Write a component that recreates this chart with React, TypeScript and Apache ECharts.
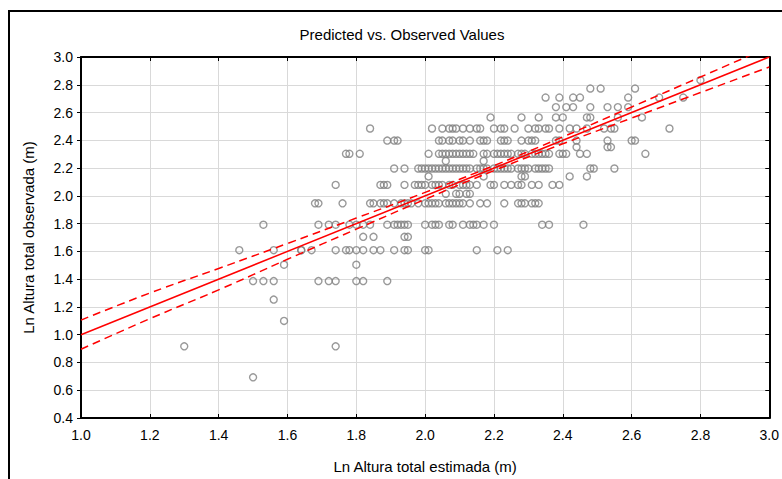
import React, { useEffect, useRef } from "react";
import * as echarts from "echarts";

// Observed heights come in discrete classes (ln of whole / half metres).
const observedLevels = [
  2.833, 2.773, 2.708, 2.639, 2.565, 2.485, 2.398, 2.351, 2.303, 2.251, 2.197, 2.14,
  2.079, 2.015, 1.946, 1.792, 1.705, 1.609, 1.504, 1.386, 1.253, 1.099, 0.916, 0.693,
];

// Predicted (estimated) values for the trees in each observed class above.
const estimatedAtLevel = [
  [2.8],
  [2.48, 2.51, 2.61],
  [2.35, 2.39, 2.43, 2.45, 2.59, 2.68, 2.75],
  [2.38, 2.41, 2.43, 2.48, 2.53, 2.56, 2.59],
  [2.19, 2.28, 2.33, 2.38, 2.4, 2.47, 2.48, 2.56, 2.63],
  [1.84, 2.02, 2.05, 2.07, 2.08, 2.09, 2.11, 2.13, 2.15, 2.16, 2.2, 2.22, 2.23, 2.26, 2.3, 2.32, 2.33, 2.35, 2.36, 2.39, 2.42, 2.44, 2.47, 2.52, 2.54, 2.55, 2.71],
  [1.89, 1.91, 1.92, 2.04, 2.05, 2.07, 2.08, 2.1, 2.11, 2.13, 2.16, 2.17, 2.18, 2.22, 2.23, 2.24, 2.28, 2.3, 2.31, 2.32, 2.38, 2.39, 2.44, 2.53, 2.6, 2.61],
  [2.44, 2.53, 2.54],
  [1.77, 1.78, 1.81, 2.01, 2.04, 2.05, 2.06, 2.07, 2.08, 2.09, 2.1, 2.11, 2.12, 2.13, 2.14, 2.17, 2.18, 2.2, 2.21, 2.22, 2.23, 2.24, 2.25, 2.27, 2.28, 2.29, 2.31, 2.32, 2.33, 2.34, 2.35, 2.36, 2.39, 2.4, 2.41, 2.45, 2.47, 2.64],
  [2.06, 2.17],
  [1.91, 1.94, 1.98, 1.99, 2.0, 2.01, 2.02, 2.03, 2.04, 2.05, 2.06, 2.07, 2.08, 2.09, 2.1, 2.11, 2.12, 2.13, 2.15, 2.16, 2.17, 2.18, 2.2, 2.21, 2.22, 2.23, 2.24, 2.25, 2.27, 2.28, 2.29, 2.3, 2.32, 2.33, 2.34, 2.35, 2.36, 2.48, 2.49, 2.55],
  [2.01, 2.17, 2.28, 2.29, 2.42, 2.47],
  [1.74, 1.87, 1.88, 1.89, 1.94, 1.97, 1.98, 1.99, 2.0, 2.02, 2.03, 2.04, 2.05, 2.07, 2.08, 2.1, 2.11, 2.12, 2.13, 2.15, 2.19, 2.2, 2.23, 2.25, 2.27, 2.28, 2.31, 2.33, 2.37, 2.39],
  [2.06, 2.09, 2.1, 2.12, 2.13],
  [1.68, 1.69, 1.76, 1.84, 1.85, 1.87, 1.88, 1.89, 1.91, 1.93, 1.94, 1.95, 1.96, 1.98, 2.0, 2.01, 2.02, 2.03, 2.04, 2.06, 2.07, 2.08, 2.09, 2.1, 2.11, 2.13, 2.16, 2.18, 2.23, 2.27, 2.28, 2.29, 2.31, 2.32, 2.33],
  [1.53, 1.69, 1.72, 1.74, 1.78, 1.8, 1.82, 1.84, 1.89, 1.91, 1.92, 1.93, 1.94, 1.95, 2.0, 2.02, 2.03, 2.04, 2.07, 2.08, 2.11, 2.13, 2.14, 2.15, 2.17, 2.2, 2.34, 2.36, 2.46],
  [1.82, 1.85, 1.94, 1.95],
  [1.46, 1.56, 1.64, 1.64, 1.67, 1.74, 1.77, 1.78, 1.8, 1.82, 1.85, 1.87, 1.91, 1.94, 1.95, 2.0, 2.01, 2.15, 2.21, 2.24],
  [1.59, 1.8],
  [1.5, 1.53, 1.56, 1.69, 1.72, 1.74, 1.8, 1.82, 1.89],
  [1.56],
  [1.59],
  [1.3, 1.74],
  [1.5],
];

// Fitted regression line and its 95% confidence band.
const fitX = [1.0, 3.0];
const fitY = [1.0, 3.0];
const bandX = [1.0, 1.2, 1.4, 1.6, 1.8, 2.0, 2.2, 2.4, 2.6, 2.8, 3.0];
const bandUpper = [1.105, 1.3, 1.477, 1.657, 1.84, 2.025, 2.218, 2.425, 2.64, 2.856, 3.072];
const bandLower = [0.895, 1.115, 1.323, 1.543, 1.76, 1.975, 2.182, 2.375, 2.56, 2.744, 2.928];

const FONT = "'Liberation Sans', Arial, sans-serif";
const RED = "#ff0000";
const GRAY = "#7f7f7f";

export default function App() {
  const ref = useRef<HTMLDivElement>(null);

  useEffect(() => {
    if (!ref.current) return;
    const chart = echarts.init(ref.current, null, { renderer: "svg" });

    const points: number[][] = [];
    observedLevels.forEach((obs, i) => {
      estimatedAtLevel[i].forEach((est) => points.push([est, obs]));
    });

    const axisLine = { show: true, lineStyle: { color: "#000", width: 2 } };
    const fmt = (v: number) => v.toFixed(1);

    chart.setOption({
      animation: false,
      backgroundColor: "#fff",
      grid: { left: 81, right: 8, top: 57, bottom: 61, containLabel: false },
      graphic: [
        {
          type: "polyline",
          shape: { points: [[9, 490], [9, 11], [790, 11]] },
          style: { stroke: "#000", lineWidth: 2, fill: "none" },
          silent: true,
        },
        {
          type: "text",
          x: 402,
          y: 34,
          style: {
            text: "Predicted vs. Observed Values",
            font: `15px ${FONT}`,
            fill: "#000",
            textAlign: "center",
            textVerticalAlign: "middle",
          },
        },
      ],
      xAxis: [
        {
          type: "value",
          min: 1.0,
          max: 3.0,
          interval: 0.2,
          position: "bottom",
          name: "Ln Altura total estimada (m)",
          nameLocation: "middle",
          nameGap: 41,
          nameTextStyle: { fontFamily: FONT, fontSize: 15, color: "#000" },
          axisLine,
          axisTick: { show: true, inside: true, length: 4, lineStyle: { color: "#000", width: 1 } },
          axisLabel: { formatter: fmt, fontFamily: FONT, fontSize: 14, color: "#000", margin: 10, showMaxLabel: true, showMinLabel: true },
          splitLine: { show: true, lineStyle: { color: "#d9d9d9", width: 1 } },
        },
        {
          type: "value",
          min: 1.0,
          max: 3.0,
          interval: 0.2,
          position: "top",
          axisLine,
          axisTick: { show: true, inside: true, length: 4, lineStyle: { color: "#000", width: 1 } },
          axisLabel: { show: false },
          splitLine: { show: false },
        },
      ],
      yAxis: [
        {
          type: "value",
          min: 0.4,
          max: 3.0,
          interval: 0.2,
          position: "left",
          name: "Ln Altura total observada (m)",
          nameLocation: "middle",
          nameGap: 45,
          nameTextStyle: { fontFamily: FONT, fontSize: 15, color: "#000" },
          axisLine,
          axisTick: { show: true, inside: false, length: 4, lineStyle: { color: "#000", width: 1 } },
          axisLabel: { formatter: fmt, fontFamily: FONT, fontSize: 14, color: "#000", margin: 8 },
          splitLine: { show: true, lineStyle: { color: "#d9d9d9", width: 1 } },
        },
        {
          type: "value",
          min: 0.4,
          max: 3.0,
          interval: 0.2,
          position: "right",
          axisLine,
          axisTick: { show: true, inside: true, length: 4, lineStyle: { color: "#000", width: 1 } },
          axisLabel: { show: false },
          splitLine: { show: false },
        },
      ],
      series: [
        {
          type: "scatter",
          data: points,
          symbol: "circle",
          symbolSize: 7,
          itemStyle: { color: "rgba(0,0,0,0)", borderColor: GRAY, borderWidth: 1.4 },
          z: 2,
        },
        {
          type: "line",
          data: fitX.map((x, i) => [x, fitY[i]]),
          symbol: "none",
          lineStyle: { color: RED, width: 1.5 },
          z: 4,
        },
        {
          type: "line",
          data: bandX.map((x, i) => [x, bandUpper[i]]),
          symbol: "none",
          smooth: true,
          clip: true,
          lineStyle: { color: RED, width: 1.5, type: [8, 5] },
          z: 4,
        },
        {
          type: "line",
          data: bandX.map((x, i) => [x, bandLower[i]]),
          symbol: "none",
          smooth: true,
          clip: true,
          lineStyle: { color: RED, width: 1.5, type: [8, 5] },
          z: 4,
        },
      ],
    });

    return () => chart.dispose();
  }, []);

  return (
    <div
      ref={ref}
      style={{ position: "absolute", left: 0, top: 0, width: 782, height: 479 }}
    />
  );
}
